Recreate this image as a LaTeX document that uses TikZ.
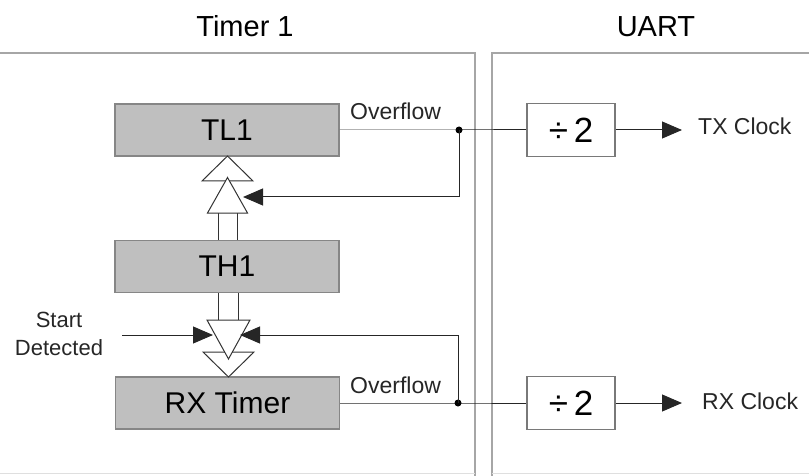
\documentclass[tikz,border=0pt]{standalone}
\usepackage{fontspec}
\setmainfont{Liberation Sans}
\usetikzlibrary{arrows.meta,positioning}
\tikzstyle{register}=[draw=gray!95, fill=gray!50, line width=1.2pt, minimum width=224pt, minimum height=52pt, inner sep=0pt, font=\fontsize{30}{34}\selectfont]
\tikzstyle{divbox}=[draw=gray!95!black, fill=white, line width=1.2pt, minimum width=88pt, minimum height=53pt, inner sep=0pt, font=\fontsize{35}{40}\selectfont]
\tikzstyle{wire}=[black!85, line width=1pt]
\tikzstyle{blackhead}=[-{Triangle[length=20pt,width=17pt]}]
\tikzstyle{hollow}=[draw=black!80, fill=white, line width=1pt, line join=miter]
\tikzstyle{frameline}=[gray!70, line width=1.8pt]
\tikzstyle{heading}=[font=\fontsize{29}{34}\selectfont, inner sep=0pt, anchor=base]
\tikzstyle{smalltext}=[font=\fontsize{23}{28}\selectfont, inner sep=0pt, text=black!85]

\begin{document}
\begin{tikzpicture}[x=1pt, y=-1pt]
				\useasboundingbox (0,0) rectangle (809,476);

				\draw[frameline] (0,53) -- (475,53) -- (475,476);
				\draw[frameline] (809,53) -- (492,53) -- (492,476);
				\draw[gray!25, line width=1pt] (0,473) -- (475,473);
				\draw[gray!25, line width=1pt] (492,473) -- (809,473);

				\node[heading] (hdrtimer) at (245,37) {Timer 1};
				\node[heading] (hdruart) at (656,37) {UART};

				\node[register] (tlone) at (227,130) {TL1};
				\node[register] (thone) at (227,266.5) {TH1};
				\node[register] (rxtimer) at (227.5,403) {RX Timer};

				\node[divbox] (txdiv) at (571,130) {÷\,2};
				\node[divbox] (rxdiv) at (571,403) {÷\,2};

				\coordinate (txdot) at (459,130);
				\coordinate (rxdot) at (458,403);
				\coordinate (tlin) at (243,197);
				\coordinate (rxin) at (240,335);
				\coordinate (startfrom) at (122,335);
				\coordinate (startto) at (213,335);
				\coordinate (txclkto) at (682,130);
				\coordinate (rxclkto) at (682,403);

				\filldraw[hollow] (202,181) -- (227.5,156) -- (253,181) -- cycle;
				\draw[hollow] (218,240) -- (218,213) (237,240) -- (237,213);
				\filldraw[hollow] (207.5,213) -- (227.5,177.5) -- (247.5,213) -- cycle;

				\filldraw[hollow] (203,352) -- (228.5,377) -- (254,352) -- cycle;
				\draw[hollow] (218,293) -- (218,320) (238,293) -- (238,320);
				\filldraw[hollow] (207,320) -- (228.5,359) -- (250,320) -- cycle;

				\draw[wire] (tlone.east) -- (txdot) -- (txdiv.west);
				\draw[wire] (rxtimer.east) -- (rxdot) -- (rxdiv.west);
				\fill[black] (txdot) circle [radius=3.5pt];
				\fill[black] (rxdot) circle [radius=3.5pt];

				\draw[wire, blackhead] (txdot) |- (tlin);
				\draw[wire, blackhead] (rxdot) |- (rxin);
				\draw[wire, blackhead] (startfrom) -- (startto);
				\draw[wire, blackhead] (txdiv.east) -- (txclkto);
				\draw[wire, blackhead] (rxdiv.east) -- (rxclkto);

				\node[smalltext, anchor=base west] (txover) at (350,119.5) {Overflow};
				\node[smalltext, anchor=base west] (rxover) at (350,393) {Overflow};
				\node[smalltext, anchor=base west] (txclk) at (698,135) {TX Clock};
				\node[smalltext, anchor=base west] (rxclk) at (702,409) {RX Clock};
				\node[smalltext, anchor=north, align=center, font=\fontsize{22}{28}\selectfont] (start) at (59,312) {Start\\Detected};
			\end{tikzpicture}
\end{document}
